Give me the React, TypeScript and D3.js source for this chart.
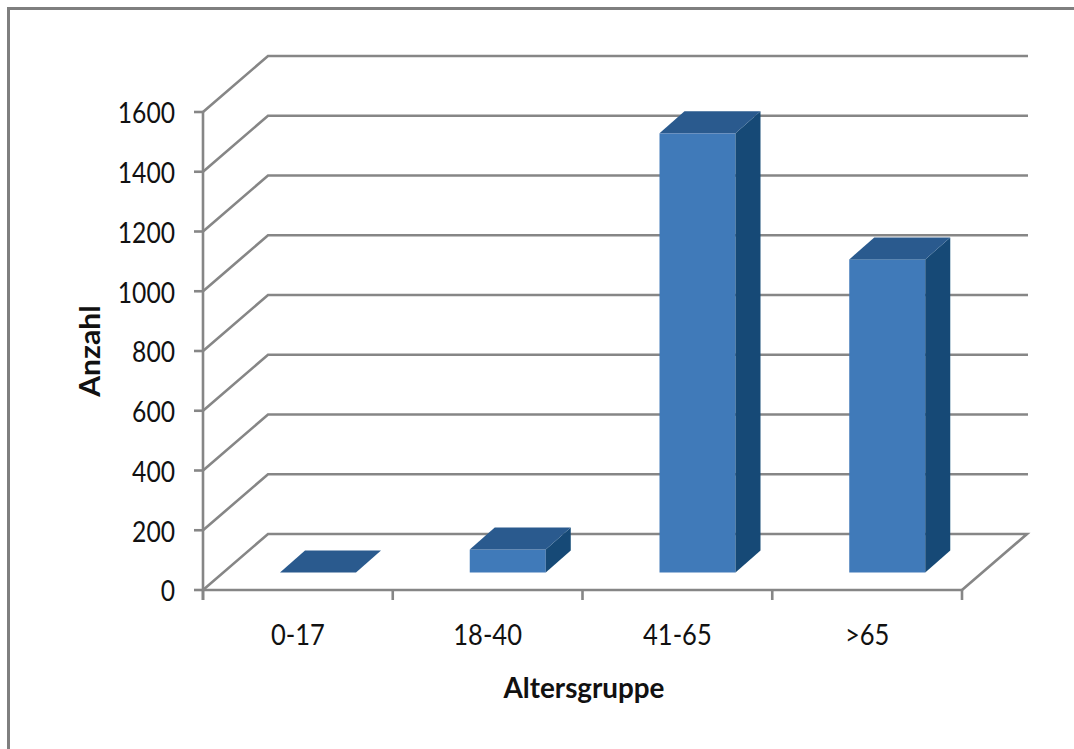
import React from "react";
import * as d3 from "d3";

const categories = ["0-17", "18-40", "41-65", ">65"];
const values = [0, 77, 1470, 1048];
const yTicks = [0, 200, 400, 600, 800, 1000, 1200, 1400, 1600];
const xTitle = "Altersgruppe";
const yTitle = "Anzahl";

const GRID = "#868686";
const FRONT = "#417ab9";
const TOP = "#295a8e";
const SIDE = "#164a76";
const FONT = "Lato, Carlito, sans-serif";

const x = d3.scaleBand<string>().domain(categories).range([203, 962]);
const y = d3.scaleLinear().domain([0, 1600]).range([590, 112]);
const wallDx = 65;
const wallDy = -56;
const barInset = 77;
const barW = 76;
const barDx = 25;
const barDy = -22;
const barLift = -17.5;

const path = (pts: [number, number][]) => d3.line()(pts) + "Z";

export default function App() {
  const x0 = x.range()[0];
  const x1 = x.range()[1];
  const y0 = y(0);
  return (
    <svg
      width={1074}
      height={749}
      style={{ position: "absolute", left: 0, top: 0, background: "#fff" }}
    >
      <defs>
        <filter id="soft" x="-5%" y="-5%" width="110%" height="110%">
          <feGaussianBlur stdDeviation="0.45" />
        </filter>
      </defs>
      <path d="M8.5 749V8.5H1074" fill="none" stroke="#7f7f7f" strokeWidth={3} />
      <g filter="url(#soft)">
        <g fill="none" stroke={GRID} strokeWidth={2.6}>
          {yTicks.map((t) => (
            <g key={t}>
              <path
                d={
                  t === 0
                    ? d3.line()([
                        [x0, y(t)],
                        [x0 + wallDx, y(t) + wallDy],
                        [x1 + wallDx, y(t) + wallDy],
                        [x1, y(t)],
                      ])!
                    : d3.line()([
                        [x0, y(t)],
                        [x0 + wallDx, y(t) + wallDy],
                        [x1 + wallDx + 1, y(t) + wallDy],
                      ])!
                }
              />
              <line x1={x0 - 9} x2={x0} y1={y(t)} y2={y(t)} />
            </g>
          ))}
          <line x1={x0} x2={x0} y1={y(1600)} y2={y0 + 10} />
          <line x1={x0} x2={x1} y1={y0} y2={y0} />
          {[...categories.map((c) => x(c)!), x1].map((px) => (
            <line key={px} x1={px} x2={px} y1={y0} y2={y0 + 10} />
          ))}
        </g>
        {categories.map((c, i) => {
          const left = x(c)! + barInset;
          const right = left + barW;
          const base = y0 + barLift;
          const top = y(values[i]) + barLift;
          return (
            <g key={c}>
              {values[i] > 0 && (
                <>
                  <rect x={left} y={top} width={barW} height={base - top} fill={FRONT} />
                  <path
                    d={path([
                      [right, top],
                      [right + barDx, top + barDy],
                      [right + barDx, base + barDy],
                      [right, base],
                    ])}
                    fill={SIDE}
                  />
                </>
              )}
              <path
                d={path([
                  [left, top],
                  [left + barDx, top + barDy],
                  [right + barDx, top + barDy],
                  [right, top],
                ])}
                fill={TOP}
              />
            </g>
          );
        })}
      </g>
      <g fontFamily={FONT} fill="#111" fontSize={29}>
        {yTicks.map((t) => (
          <text
            key={t}
            transform={`translate(175,${y(t)}) scale(0.85,1)`}
            textAnchor="end"
            dominantBaseline="central"
          >
            {t}
          </text>
        ))}
        {categories.map((c) => (
          <text
            key={c}
            transform={`translate(${x(c)! + x.bandwidth() / 2},634) scale(0.88,1)`}
            textAnchor="middle"
            dominantBaseline="central"
          >
            {c}
          </text>
        ))}
      </g>
      <g fontFamily={FONT} fill="#111" fontWeight={700}>
        <text
          fontSize={29}
          transform="translate(584,687) scale(0.96,1)"
          textAnchor="middle"
          dominantBaseline="central"
        >
          {xTitle}
        </text>
        <text
          fontSize={29}
          transform="translate(89,351) rotate(-90) scale(1.04,1)"
          textAnchor="middle"
          dominantBaseline="central"
        >
          {yTitle}
        </text>
      </g>
    </svg>
  );
}
